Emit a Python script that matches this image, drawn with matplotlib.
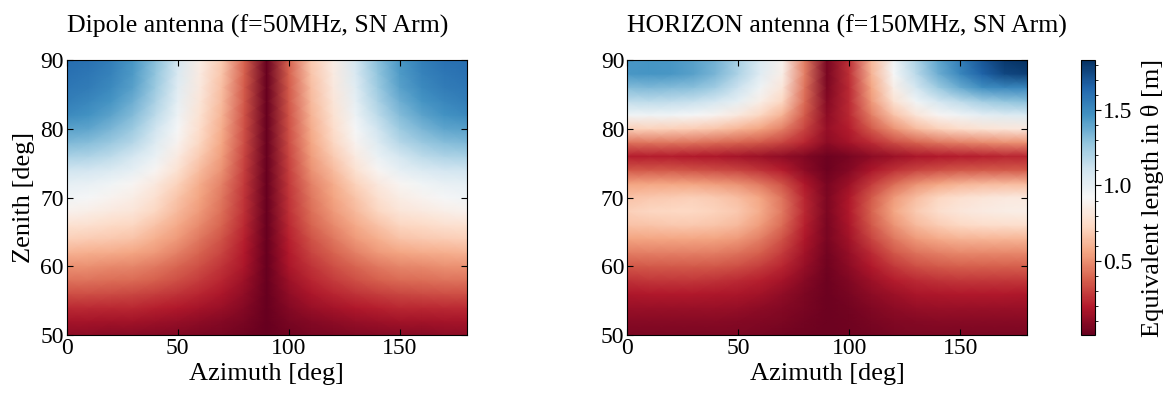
import numpy as np
import matplotlib
matplotlib.use("Agg")
import matplotlib.pyplot as plt
from matplotlib.ticker import MultipleLocator

plt.rcParams['font.family'] = ['Liberation Serif', 'DejaVu Serif']
plt.rcParams['mathtext.fontset'] = 'stix'

azimuth = [0, 10, 20, 30, 40, 50, 60, 70, 80, 90, 100, 110, 120, 130, 140, 150, 160, 170, 180]
zenith = [50, 52, 54, 56, 58, 60, 62, 64, 66, 68, 70, 72, 74, 76, 78, 80, 82, 84, 86, 88, 90]

# Dipole antenna, rows from zenith 50 to 90
dipole = [
    [0.10, 0.10, 0.09, 0.09, 0.08, 0.07, 0.06, 0.05, 0.03, 0.01, 0.03, 0.05, 0.06, 0.07, 0.08, 0.09, 0.09, 0.10, 0.10],
    [0.16, 0.16, 0.15, 0.15, 0.14, 0.12, 0.10, 0.08, 0.05, 0.01, 0.05, 0.08, 0.10, 0.12, 0.14, 0.15, 0.15, 0.16, 0.16],
    [0.24, 0.24, 0.23, 0.23, 0.21, 0.19, 0.16, 0.13, 0.08, 0.01, 0.08, 0.13, 0.16, 0.19, 0.21, 0.23, 0.23, 0.24, 0.24],
    [0.33, 0.33, 0.32, 0.31, 0.29, 0.26, 0.22, 0.17, 0.11, 0.01, 0.11, 0.17, 0.22, 0.26, 0.29, 0.31, 0.32, 0.33, 0.33],
    [0.42, 0.42, 0.41, 0.40, 0.37, 0.33, 0.28, 0.22, 0.14, 0.01, 0.14, 0.22, 0.28, 0.33, 0.37, 0.40, 0.41, 0.42, 0.42],
    [0.50, 0.50, 0.48, 0.47, 0.44, 0.39, 0.33, 0.26, 0.17, 0.01, 0.17, 0.26, 0.33, 0.39, 0.44, 0.47, 0.48, 0.50, 0.50],
    [0.60, 0.59, 0.58, 0.56, 0.52, 0.46, 0.38, 0.30, 0.19, 0.01, 0.19, 0.30, 0.38, 0.46, 0.52, 0.56, 0.58, 0.59, 0.60],
    [0.70, 0.69, 0.67, 0.65, 0.59, 0.52, 0.43, 0.34, 0.21, 0.01, 0.21, 0.34, 0.43, 0.52, 0.59, 0.65, 0.67, 0.69, 0.70],
    [0.78, 0.77, 0.74, 0.72, 0.65, 0.57, 0.48, 0.38, 0.23, 0.01, 0.23, 0.38, 0.48, 0.57, 0.65, 0.72, 0.74, 0.77, 0.78],
    [0.88, 0.86, 0.83, 0.80, 0.72, 0.62, 0.52, 0.41, 0.25, 0.01, 0.25, 0.41, 0.52, 0.62, 0.72, 0.80, 0.83, 0.86, 0.88],
    [0.95, 0.93, 0.89, 0.85, 0.77, 0.66, 0.55, 0.43, 0.26, 0.01, 0.26, 0.43, 0.55, 0.66, 0.77, 0.85, 0.89, 0.93, 0.95],
    [1.00, 0.99, 0.95, 0.90, 0.82, 0.71, 0.58, 0.46, 0.27, 0.01, 0.27, 0.46, 0.58, 0.71, 0.82, 0.90, 0.95, 0.99, 1.00],
    [1.10, 1.09, 1.05, 1.00, 0.90, 0.78, 0.63, 0.50, 0.29, 0.01, 0.29, 0.50, 0.63, 0.78, 0.90, 1.00, 1.05, 1.09, 1.10],
    [1.22, 1.20, 1.16, 1.08, 0.98, 0.84, 0.68, 0.53, 0.30, 0.01, 0.30, 0.53, 0.68, 0.84, 0.98, 1.08, 1.16, 1.20, 1.22],
    [1.33, 1.31, 1.26, 1.18, 1.04, 0.89, 0.72, 0.56, 0.32, 0.01, 0.32, 0.56, 0.72, 0.89, 1.04, 1.18, 1.26, 1.31, 1.33],
    [1.42, 1.40, 1.34, 1.25, 1.10, 0.93, 0.75, 0.58, 0.33, 0.01, 0.33, 0.58, 0.75, 0.93, 1.10, 1.25, 1.34, 1.40, 1.42],
    [1.50, 1.47, 1.41, 1.32, 1.16, 0.97, 0.78, 0.60, 0.34, 0.01, 0.34, 0.60, 0.78, 0.97, 1.16, 1.32, 1.41, 1.47, 1.50],
    [1.55, 1.52, 1.46, 1.37, 1.21, 1.00, 0.80, 0.62, 0.35, 0.01, 0.35, 0.62, 0.80, 1.00, 1.21, 1.37, 1.46, 1.52, 1.55],
    [1.58, 1.56, 1.50, 1.42, 1.25, 1.03, 0.82, 0.64, 0.36, 0.01, 0.36, 0.64, 0.82, 1.03, 1.25, 1.42, 1.50, 1.56, 1.58],
    [1.60, 1.58, 1.53, 1.44, 1.28, 1.06, 0.84, 0.66, 0.37, 0.01, 0.37, 0.66, 0.84, 1.06, 1.28, 1.44, 1.53, 1.58, 1.60],
    [1.62, 1.60, 1.55, 1.45, 1.30, 1.08, 0.85, 0.68, 0.38, 0.01, 0.38, 0.68, 0.85, 1.08, 1.30, 1.45, 1.55, 1.60, 1.62],
]

# HORIZON antenna, rows from zenith 50 to 90
horizon = [
    [0.06, 0.06, 0.06, 0.06, 0.06, 0.06, 0.05, 0.04, 0.03, 0.02, 0.03, 0.04, 0.05, 0.06, 0.06, 0.06, 0.06, 0.06, 0.06],
    [0.09, 0.09, 0.09, 0.09, 0.09, 0.08, 0.07, 0.06, 0.04, 0.02, 0.03, 0.05, 0.07, 0.08, 0.09, 0.09, 0.09, 0.09, 0.09],
    [0.13, 0.13, 0.13, 0.13, 0.13, 0.12, 0.10, 0.08, 0.05, 0.02, 0.04, 0.07, 0.10, 0.12, 0.13, 0.13, 0.13, 0.13, 0.13],
    [0.18, 0.19, 0.19, 0.19, 0.18, 0.17, 0.15, 0.11, 0.06, 0.02, 0.05, 0.10, 0.14, 0.17, 0.18, 0.19, 0.19, 0.19, 0.18],
    [0.26, 0.27, 0.27, 0.27, 0.26, 0.24, 0.21, 0.16, 0.09, 0.02, 0.07, 0.14, 0.20, 0.24, 0.26, 0.27, 0.27, 0.27, 0.27],
    [0.35, 0.36, 0.36, 0.36, 0.35, 0.33, 0.29, 0.22, 0.12, 0.03, 0.10, 0.19, 0.27, 0.33, 0.36, 0.37, 0.37, 0.37, 0.37],
    [0.45, 0.46, 0.46, 0.46, 0.45, 0.42, 0.37, 0.28, 0.15, 0.04, 0.12, 0.24, 0.35, 0.42, 0.46, 0.48, 0.48, 0.48, 0.48],
    [0.55, 0.56, 0.56, 0.56, 0.55, 0.52, 0.45, 0.34, 0.18, 0.05, 0.15, 0.30, 0.43, 0.52, 0.57, 0.60, 0.61, 0.61, 0.61],
    [0.65, 0.66, 0.67, 0.67, 0.66, 0.62, 0.53, 0.40, 0.21, 0.05, 0.17, 0.35, 0.51, 0.62, 0.69, 0.73, 0.75, 0.76, 0.76],
    [0.70, 0.72, 0.73, 0.73, 0.71, 0.67, 0.58, 0.44, 0.23, 0.06, 0.19, 0.38, 0.56, 0.68, 0.76, 0.81, 0.84, 0.85, 0.86],
    [0.65, 0.67, 0.69, 0.70, 0.68, 0.64, 0.56, 0.42, 0.22, 0.06, 0.18, 0.36, 0.52, 0.64, 0.72, 0.77, 0.80, 0.82, 0.83],
    [0.55, 0.56, 0.56, 0.55, 0.53, 0.50, 0.44, 0.34, 0.18, 0.05, 0.14, 0.28, 0.40, 0.50, 0.56, 0.60, 0.62, 0.63, 0.63],
    [0.35, 0.35, 0.35, 0.34, 0.32, 0.30, 0.26, 0.20, 0.10, 0.02, 0.08, 0.17, 0.25, 0.30, 0.33, 0.35, 0.36, 0.36, 0.36],
    [0.20, 0.20, 0.20, 0.19, 0.18, 0.16, 0.14, 0.11, 0.07, 0.02, 0.05, 0.10, 0.14, 0.17, 0.19, 0.20, 0.21, 0.22, 0.22],
    [0.42, 0.43, 0.43, 0.42, 0.40, 0.38, 0.35, 0.30, 0.22, 0.10, 0.16, 0.24, 0.32, 0.38, 0.43, 0.46, 0.48, 0.50, 0.50],
    [0.70, 0.71, 0.70, 0.69, 0.66, 0.61, 0.55, 0.46, 0.30, 0.12, 0.20, 0.36, 0.50, 0.62, 0.70, 0.75, 0.79, 0.81, 0.82],
    [0.95, 0.96, 0.95, 0.93, 0.89, 0.82, 0.72, 0.60, 0.36, 0.10, 0.23, 0.45, 0.65, 0.80, 0.90, 0.96, 1.01, 1.04, 1.05],
    [1.15, 1.16, 1.15, 1.13, 1.08, 1.00, 0.86, 0.72, 0.40, 0.08, 0.24, 0.52, 0.78, 0.95, 1.08, 1.16, 1.24, 1.28, 1.30],
    [1.32, 1.33, 1.32, 1.30, 1.24, 1.12, 0.96, 0.80, 0.42, 0.06, 0.24, 0.56, 0.86, 1.08, 1.25, 1.38, 1.48, 1.52, 1.52],
    [1.45, 1.46, 1.45, 1.42, 1.34, 1.20, 1.03, 0.86, 0.45, 0.05, 0.25, 0.60, 0.92, 1.17, 1.37, 1.52, 1.66, 1.75, 1.78],
    [1.45, 1.46, 1.45, 1.42, 1.35, 1.22, 1.05, 0.88, 0.45, 0.05, 0.25, 0.62, 0.95, 1.20, 1.40, 1.55, 1.70, 1.80, 1.83],
]

titles = ["Dipole antenna (f=50MHz, SN Arm)", "HORIZON antenna (f=150MHz, SN Arm)"]
vmin, vmax = 0.005, 1.835

fig = plt.figure(figsize=(11.76, 3.97), dpi=100)
ax1 = fig.add_axes([0.0567, 0.156, 0.340, 0.693])
ax2 = fig.add_axes([0.5332, 0.156, 0.340, 0.693])
cax = fig.add_axes([0.9188, 0.156, 0.0119, 0.693])

for i, (ax, data, title) in enumerate(zip([ax1, ax2], [dipole, horizon], titles)):
    m = ax.pcolormesh(np.array(azimuth), np.array(zenith), np.array(data),
                      shading='gouraud', cmap='RdBu', vmin=vmin, vmax=vmax,
                      rasterized=True)
    ax.set_xlim(0, 180)
    ax.set_ylim(50, 90)
    ax.set_xticks([0, 50, 100, 150])
    ax.set_yticks([50, 60, 70, 80, 90])
    ax.tick_params(direction='in', top=True, right=True, length=4.5, width=0.8,
                   labelsize=17, pad=2)
    ax.set_xlabel("Azimuth [deg]", fontsize=19, labelpad=3)
    if i == 0:
        ax.set_ylabel("Zenith [deg]", fontsize=19, labelpad=4)
    ax.set_title(title, fontsize=18.6, loc='left', pad=20)

cb = fig.colorbar(m, cax=cax)
cb.set_ticks([0.5, 1.0, 1.5])
cb.ax.yaxis.set_minor_locator(MultipleLocator(0.1))
cb.ax.tick_params(which='major', direction='out', length=4, labelsize=17, pad=2)
cb.ax.tick_params(which='minor', direction='out', length=2.5)
cb.set_label("Equivalent length in θ [m]", fontsize=19, labelpad=6)
cb.outline.set_linewidth(0.8)

fig.savefig("out.png", dpi=100)
